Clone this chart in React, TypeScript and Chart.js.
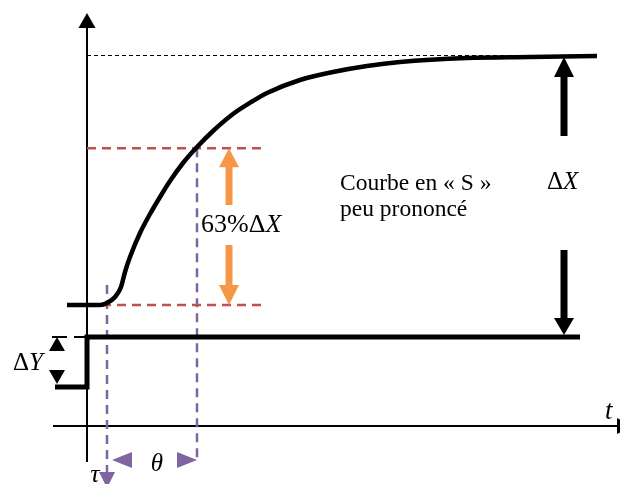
import React, { useEffect, useRef } from "react";
import { Chart, registerables } from "chart.js";

Chart.register(...registerables);

// Process reaction curve: time t and output value in diagram units
const responseT = [-2.0, 1.3, 2.0, 2.8, 3.4, 3.8, 4.3, 5.3, 6.3, 7.3, 8.3, 9.6, 11.0, 12.6, 14.6, 16.6, 18.0, 21.3, 24.6, 28.0, 31.3, 38.0, 44.3, 51.0];
const responseY = [12.1, 12.1, 12.3, 12.9, 13.9, 15.4, 16.9, 19.3, 21.2, 22.9, 24.5, 26.3, 27.9, 29.5, 31.2, 32.5, 33.3, 34.6, 35.4, 36.0, 36.4, 36.8, 36.9, 37.0];

// Input step (ΔY) applied at t = 0
const inputT = [-3.2, 0, 0, 49.3];
const inputY = [3.9, 3.9, 8.9, 8.9];

// Characteristic levels and times
const initialValue = 12.1;
const finalValue = 37.0;
const fraction63 = 0.63;
const level63 = initialValue + fraction63 * (finalValue - initialValue);
const delayT = 2.0; // τ
const theta63T = 11.0; // end of θ
const inputHigh = inputY[3];

// Visible window of the diagram
const tMin = -8.7;
const tMax = 53.3;
const yMin = -5.8;
const yMax = 42.6;

const BLACK = "#000000";
const RED = "#C0504D";
const PURPLE = "#8064A2";
const ORANGE = "#F79646";

type Pt = { x: number; y: number };
const pts = (xs: number[], ys: number[]): Pt[] => xs.map((x, i) => ({ x, y: ys[i] }));

type ArrowSpec = {
  tail: [number, number];
  tip: [number, number];
  shaft: number;
  head: number;
  width: number;
  color: string;
};

const arrows: ArrowSpec[] = [
  // axis heads
  { tail: [0, 39.8], tip: [0, 41.3], shaft: 0, head: 15, width: 17, color: BLACK },
  { tail: [53.0, 0], tip: [54.6, 0], shaft: 0, head: 16, width: 16, color: BLACK },
  // ΔX
  { tail: [47.7, 29.0], tip: [47.7, finalValue - 0.1], shaft: 7, head: 20, width: 20, color: BLACK },
  { tail: [47.7, 17.6], tip: [47.7, inputHigh + 0.2], shaft: 7, head: 17, width: 20, color: BLACK },
  // 63% ΔX
  { tail: [14.2, 22.1], tip: [14.2, level63], shaft: 7, head: 19, width: 20, color: ORANGE },
  { tail: [14.2, 18.1], tip: [14.2, initialValue], shaft: 7, head: 20, width: 20, color: ORANGE },
  // ΔY
  { tail: [-3.0, 7.5], tip: [-3.0, inputHigh], shaft: 0, head: 14, width: 16, color: BLACK },
  { tail: [-3.0, 5.6], tip: [-3.0, 4.2], shaft: 0, head: 14, width: 16, color: BLACK },
  // θ
  { tail: [4.5, -3.4], tip: [delayT + 0.5, -3.4], shaft: 0, head: 20, width: 16, color: PURPLE },
  { tail: [theta63T - 2.0, -3.4], tip: [theta63T, -3.4], shaft: 0, head: 20, width: 16, color: PURPLE },
  // τ
  { tail: [delayT, -4.6], tip: [delayT, -6.2], shaft: 0, head: 16, width: 16, color: PURPLE },
];

type Run = { text: string; italic?: boolean };
type Label = { runs: Run[]; at: [number, number]; size: number; align: "left" | "center" };

const labels: Label[] = [
  { runs: [{ text: "Courbe en « S »" }], at: [25.3, 23.6], size: 23.5, align: "left" },
  { runs: [{ text: "peu prononcé" }], at: [25.3, 21.0], size: 23.5, align: "left" },
  { runs: [{ text: "Δ" }, { text: "X", italic: true }], at: [46.0, 23.7], size: 25, align: "left" },
  { runs: [{ text: "63%Δ" }, { text: "X", italic: true }], at: [11.4, 19.4], size: 26, align: "left" },
  { runs: [{ text: "Δ" }, { text: "Y", italic: true }], at: [-7.4, 5.6], size: 25, align: "left" },
  { runs: [{ text: "θ", italic: true }], at: [7.0, -4.5], size: 25, align: "center" },
  { runs: [{ text: "τ", italic: true }], at: [0.8, -5.6], size: 26, align: "center" },
  { runs: [{ text: "t", italic: true }], at: [51.8, 0.7], size: 27, align: "left" },
];

function drawArrow(ctx: CanvasRenderingContext2D, x1: number, y1: number, x2: number, y2: number, a: ArrowSpec) {
  const ang = Math.atan2(y2 - y1, x2 - x1);
  const len = Math.hypot(x2 - x1, y2 - y1);
  ctx.save();
  ctx.translate(x2, y2);
  ctx.rotate(ang);
  ctx.fillStyle = a.color;
  if (a.shaft > 0 && len > a.head) {
    ctx.fillRect(-len, -a.shaft / 2, len - a.head + 0.5, a.shaft);
  }
  ctx.beginPath();
  ctx.moveTo(0, 0);
  ctx.lineTo(-a.head, -a.width / 2);
  ctx.lineTo(-a.head, a.width / 2);
  ctx.closePath();
  ctx.fill();
  ctx.restore();
}

const overlayPlugin = {
  id: "diagramOverlay",
  afterDatasetsDraw(chart: Chart) {
    const ctx = chart.ctx;
    const sx = chart.scales.x;
    const sy = chart.scales.y;
    for (const a of arrows) {
      drawArrow(
        ctx,
        sx.getPixelForValue(a.tail[0]),
        sy.getPixelForValue(a.tail[1]),
        sx.getPixelForValue(a.tip[0]),
        sy.getPixelForValue(a.tip[1]),
        a
      );
    }
    ctx.save();
    ctx.fillStyle = BLACK;
    ctx.textBaseline = "alphabetic";
    ctx.textAlign = "left";
    for (const l of labels) {
      const fontOf = (r: Run) => `${r.italic ? "italic " : ""}${l.size}px "Liberation Serif", "Times New Roman", serif`;
      let total = 0;
      for (const r of l.runs) {
        ctx.font = fontOf(r);
        total += ctx.measureText(r.text).width;
      }
      let x = sx.getPixelForValue(l.at[0]);
      if (l.align === "center") x -= total / 2;
      const y = sy.getPixelForValue(l.at[1]);
      for (const r of l.runs) {
        ctx.font = fontOf(r);
        ctx.fillText(r.text, x, y);
        x += ctx.measureText(r.text).width;
      }
    }
    ctx.restore();
  },
};

export default function App() {
  const canvasRef = useRef<HTMLCanvasElement | null>(null);

  useEffect(() => {
    if (!canvasRef.current) return;
    const line = (data: Pt[], color: string, width: number, extra: Record<string, unknown> = {}) => ({
      type: "line" as const,
      data,
      borderColor: color,
      borderWidth: width,
      pointRadius: 0,
      fill: false,
      showLine: true,
      tension: 0,
      ...extra,
    });

    // thin reference line sits on a whole pixel row
    const finalLineY = finalValue + 0.05;

    const chart = new Chart(canvasRef.current, {
      type: "scatter",
      data: {
        datasets: [
          // axes
          line([{ x: 0, y: -3.6 }, { x: 0, y: 39.9 }], BLACK, 2, { order: 5 }),
          line([{ x: -3.4, y: 0 }, { x: 53.2, y: 0 }], BLACK, 2, { order: 5 }),
          // final value
          line([{ x: 0, y: finalLineY }, { x: 50.3, y: finalLineY }], BLACK, 1, { borderDash: [4, 3], order: 4 }),
          // initial value and 63% levels
          line([{ x: 0, y: initialValue }, { x: 17.9, y: initialValue }], RED, 2.5, { borderDash: [9, 6], order: 3 }),
          line([{ x: 0, y: level63 }, { x: 17.9, y: level63 }], RED, 2.5, { borderDash: [9, 6], order: 3 }),
          // delay and θ markers
          line([{ x: delayT, y: 14.1 }, { x: delayT, y: -4.6 }], PURPLE, 2.5, { borderDash: [9, 6], order: 3 }),
          line([{ x: theta63T, y: level63 }, { x: theta63T, y: -3.7 }], PURPLE, 2.5, { borderDash: [9, 6], order: 3 }),
          // ΔY reference dashes
          line([{ x: -3.5, y: inputHigh }, { x: -0.2, y: inputHigh }], BLACK, 2, { borderDash: [15, 7], order: 3 }),
          // input step
          line(pts(inputT, inputY), BLACK, 5, { order: 1 }),
          // process response
          line(pts(responseT, responseY), BLACK, 4.5, { tension: 0.4, cubicInterpolationMode: "monotone", order: 0 }),
        ],
      },
      options: {
        animation: false,
        responsive: true,
        maintainAspectRatio: false,
        layout: { padding: 0 },
        plugins: { legend: { display: false }, tooltip: { enabled: false } },
        events: [],
        scales: {
          x: { type: "linear", display: false, min: tMin, max: tMax },
          y: { type: "linear", display: false, min: yMin, max: yMax },
        },
      },
      plugins: [overlayPlugin],
    });
    return () => chart.destroy();
  }, []);

  return (
    <div style={{ position: "fixed", left: 0, top: 0, width: 620, height: 484, background: "#fff" }}>
      <canvas ref={canvasRef} />
    </div>
  );
}
